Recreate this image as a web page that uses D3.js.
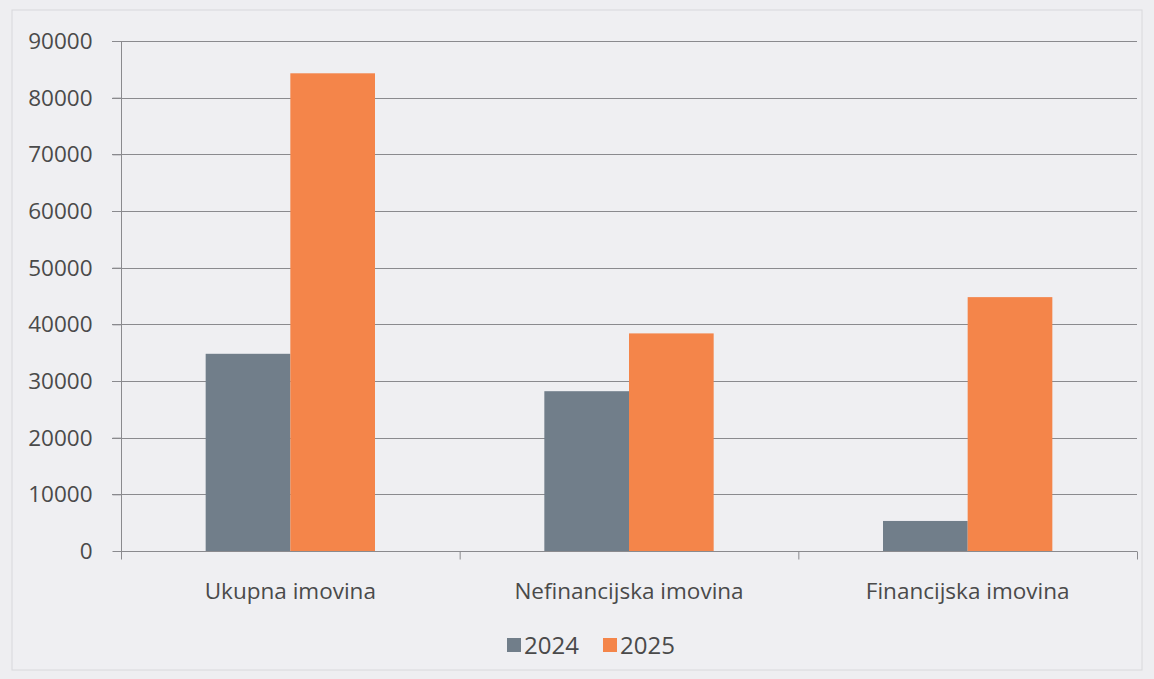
<!DOCTYPE html>
<html><head><meta charset="utf-8">
<script src="https://cdn.jsdelivr.net/npm/d3@7"></script>
<style>
html,body{margin:0;padding:0;background:#eeeef1;}
svg{display:block;}
text{font-family:"Open Sans","Noto Sans",sans-serif;fill:#4a4a4a;}
</style></head>
<body>
<svg id="c" width="1154" height="679"></svg>
<script>
const categories = ["Ukupna imovina", "Nefinancijska imovina", "Financijska imovina"];
const seriesNames = ["2024", "2025"];
const values2024 = [34800, 28200, 5300];
const values2025 = [84300, 38400, 44800];
const yTicks = [0, 10000, 20000, 30000, 40000, 50000, 60000, 70000, 80000, 90000];
const colors = ["#717e8a", "#f4854a"];

const svg = d3.select("#c");
svg.append("rect").attr("x",12).attr("y",10).attr("width",1130).attr("height",660)
  .attr("fill","#efeff2").attr("stroke","#d8d8dc").attr("stroke-width",1);

const m = {left:121, right:1137, top:41, bottom:551};
const x = d3.scaleBand().domain(categories).range([m.left, m.right]).paddingInner(0).paddingOuter(0);
const y = d3.scaleLinear().domain([0, 90000]).range([m.bottom, m.top]);
const xs = d3.scaleBand().domain(seriesNames).range([0, x.bandwidth()]).paddingInner(0).paddingOuter(1);

// gridlines
svg.append("g").selectAll("line").data(yTicks.filter(d=>d>0)).join("line")
  .attr("x1", m.left-9).attr("x2", m.right)
  .attr("y1", d=>Math.round(y(d))+0.5).attr("y2", d=>Math.round(y(d))+0.5)
  .attr("stroke","#8a8a8e").attr("stroke-width",1);

// bars
const data = categories.map((c,i)=>({c, vals:[values2024[i], values2025[i]]}));
const g = svg.append("g");
data.forEach(d=>{
  seriesNames.forEach((s,j)=>{
    g.append("rect")
      .attr("x", x(d.c)+xs(s)).attr("width", xs.bandwidth())
      .attr("y", y(d.vals[j])).attr("height", y(0)-y(d.vals[j]))
      .attr("fill", colors[j]);
  });
});

// y axis
const yAxis = d3.axisLeft(y).tickValues(yTicks).tickSize(9).tickFormat(d3.format("d"));
const ya = svg.append("g").attr("transform",`translate(${m.left+0.5},0)`).call(yAxis);
ya.select(".domain").attr("stroke","#8a8a8e").attr("d",`M0,${m.top}V${m.bottom}`);
ya.selectAll(".tick line").attr("stroke","#8a8a8e");
ya.selectAll(".tick text").attr("x",-29).attr("dy","0.34em").style("font-size","22.5px").style("fill","#4a4a4a");

// x axis
const xa = svg.append("g").attr("transform",`translate(0,${m.bottom+0.5})`);
xa.append("line").attr("x1",m.left).attr("x2",m.right).attr("stroke","#8a8a8e");
xa.selectAll("line.t").data([...categories.map(c=>x(c)), m.right]).join("line").attr("class","t")
  .attr("x1",d=>d+0.5).attr("x2",d=>d+0.5).attr("y1",0).attr("y2",8).attr("stroke","#8a8a8e");
xa.selectAll("text").data(categories).join("text")
  .attr("x",d=>x(d)+x.bandwidth()/2).attr("y",47).attr("text-anchor","middle")
  .style("font-size","22.5px").text(d=>d);

// legend
const lg = svg.append("g").attr("transform","translate(507,645)");
const lx = [0, 96];
seriesNames.forEach((s,j)=>{
  lg.append("rect").attr("x",lx[j]).attr("y",-7).attr("width",14).attr("height",14).attr("fill",colors[j]);
  lg.append("text").attr("x",lx[j]+17).attr("y",0).attr("dy","0.36em").style("font-size","24px").text(s);
});
</script>
</body></html>
